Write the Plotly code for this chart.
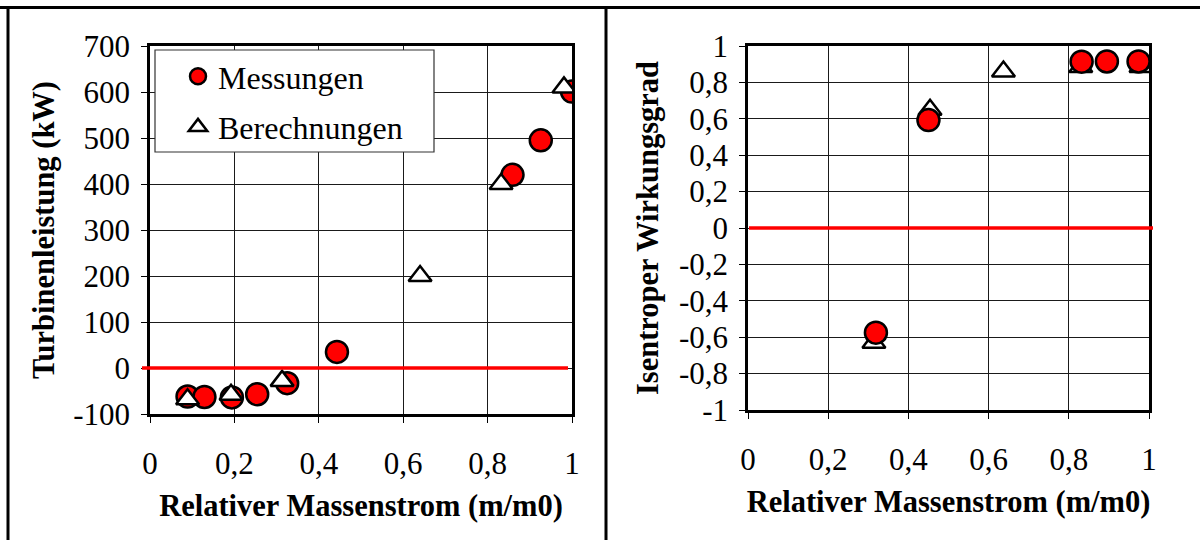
import plotly.graph_objects as go

# --- Turbinenleistung (left panel) ---
p_mess_x = [0.089, 0.129, 0.194, 0.254, 0.325, 0.443, 0.859, 0.926, 1.0]
p_mess_y = [-62, -63, -64, -57, -33, 35, 420, 495, 601]
p_ber_x = [0.089, 0.192, 0.313, 0.640, 0.832, 0.981]
p_ber_y = [-68, -58, -28, 200, 400, 610]

# --- Isentroper Wirkungsgrad (right panel) ---
eta_mess_x = [0.319, 0.450, 0.832, 0.895, 0.974]
eta_mess_y = [-0.575, 0.593, 0.914, 0.915, 0.915]
eta_ber_x = [0.314, 0.454, 0.637, 0.830, 0.980]
eta_ber_y = [-0.63, 0.65, 0.86, 0.885, 0.885]

# axis ticks
x_ticks = [0, 0.2, 0.4, 0.6, 0.8, 1.0]
x_ticktext = ["0", "0,2", "0,4", "0,6", "0,8", "1"]
p_ticks = [-100, 0, 100, 200, 300, 400, 500, 600, 700]
p_ticktext = ["-100", "0", "100", "200", "300", "400", "500", "600", "700"]
eta_ticks = [-1, -0.8, -0.6, -0.4, -0.2, 0, 0.2, 0.4, 0.6, 0.8, 1]
eta_ticktext = ["-1", "-0,8", "-0,6", "-0,4", "-0,2", "0", "0,2", "0,4", "0,6", "0,8", "1"]

zero_level = 0

FONT = "'Liberation Serif', 'Times New Roman', serif"
TICK_FONT = dict(family=FONT, size=31, color="black", weight="normal")
TITLE_FONT = dict(family=FONT, size=30.5, color="black", weight="bold")

circle_style = dict(symbol="circle", size=22, color="#ff0000",
                    line=dict(color="black", width=2.5))
tri_style = dict(symbol="triangle-up", size=20, color="white",
                 line=dict(color="black", width=2.5))

fig = go.Figure()

# left panel: circles first, triangles drawn on top
fig.add_trace(go.Scatter(x=p_mess_x, y=p_mess_y, mode="markers", name="Messungen",
                         marker=circle_style, legendgroup="m", xaxis="x", yaxis="y"))
fig.add_trace(go.Scatter(x=p_ber_x, y=p_ber_y, mode="markers", name="Berechnungen",
                         marker=tri_style, legendgroup="b", xaxis="x", yaxis="y"))
# right panel: triangles first, circles drawn on top
fig.add_trace(go.Scatter(x=eta_ber_x, y=eta_ber_y, mode="markers", name="Berechnungen",
                         marker=tri_style, legendgroup="b", showlegend=False,
                         xaxis="x2", yaxis="y2"))
fig.add_trace(go.Scatter(x=eta_mess_x, y=eta_mess_y, mode="markers", name="Messungen",
                         marker=circle_style, legendgroup="m", showlegend=False,
                         xaxis="x2", yaxis="y2"))

L, R, T, B = 150, 51, 46, 126
W, H = 1200, 540
pw, ph = W - L - R, H - T - B


def px_x(px):
    return (px - L) / pw


def px_y(py):
    return 1 - (py - T) / ph


common_x = dict(range=[0, 1], tickvals=x_ticks, ticktext=x_ticktext, tickfont=TICK_FONT,
                showgrid=True, gridcolor="#1a1a1a", gridwidth=1, zeroline=False,
                showline=True, linecolor="black", linewidth=2.5, mirror=True,
                ticks="outside", ticklen=6, tickcolor="black", tickwidth=1,
                ticklabelstandoff=14)
common_y = dict(tickfont=TICK_FONT, showgrid=True, gridcolor="#1a1a1a", gridwidth=1,
                zeroline=False, showline=True, linecolor="black", linewidth=2.5,
                mirror=True, ticks="outside", ticklen=6, tickcolor="black", tickwidth=1,
                ticklabelstandoff=5)

fig.update_layout(
    width=W, height=H,
    font=dict(family=FONT, color="black"),
    margin=dict(l=L, r=R, t=T, b=B),
    paper_bgcolor="white", plot_bgcolor="white",
    xaxis=dict(domain=[0, px_x(572)], anchor="y",
               title=dict(text="Relativer Massenstrom (m/m0)", font=TITLE_FONT, standoff=15),
               **common_x),
    yaxis=dict(domain=[0, 1], anchor="x", range=[-100, 700], tickvals=p_ticks,
               ticktext=p_ticktext,
               title=dict(text="Turbinenleistung (kW)", font=TITLE_FONT, standoff=10),
               **common_y),
    xaxis2=dict(domain=[px_x(748), 1], anchor="y2",
                title=dict(text="Relativer Massenstrom (m/m0)", font=TITLE_FONT, standoff=15),
                **common_x),
    yaxis2=dict(domain=[px_y(410), 1], anchor="x2", range=[-1, 1], tickvals=eta_ticks,
                ticktext=eta_ticktext,
                title=dict(text="Isentroper Wirkungsgrad", font=TITLE_FONT, standoff=12),
                **common_y),
    showlegend=True,
    legend=dict(x=px_x(178), y=px_y(49), xanchor="left", yanchor="top",
                bgcolor="rgba(0,0,0,0)", borderwidth=0, tracegroupgap=6,
                font=dict(family=FONT, size=32, color="black", weight="normal")),
)

shapes = [
    # outer frame: top edge, left edge and the divider between the panels
    dict(type="line", xref="paper", yref="paper", x0=px_x(0), x1=px_x(W + 10),
         y0=px_y(7.5), y1=px_y(7.5), line=dict(color="black", width=3)),
    dict(type="line", xref="paper", yref="paper", x0=px_x(8), x1=px_x(8),
         y0=px_y(6), y1=px_y(H + 10), line=dict(color="black", width=3)),
    dict(type="line", xref="paper", yref="paper", x0=px_x(606), x1=px_x(606),
         y0=px_y(6), y1=px_y(H + 10), line=dict(color="black", width=3)),
    # legend frame
    dict(type="rect", xref="paper", yref="paper", x0=px_x(155), x1=px_x(434),
         y0=px_y(152), y1=px_y(50), fillcolor="white",
         line=dict(color="#333333", width=1.2), layer="above"),
    # zero reference lines
    dict(type="line", xref="paper", yref="y", x0=px_x(142), x1=px_x(568),
         y0=zero_level, y1=zero_level, line=dict(color="#ff0000", width=3.5)),
    dict(type="line", xref="paper", yref="y2", x0=px_x(749), x1=px_x(1153),
         y0=zero_level, y1=zero_level, line=dict(color="#ff0000", width=3.5)),
]
fig.update_layout(shapes=shapes)

fig.write_html("out.html")
